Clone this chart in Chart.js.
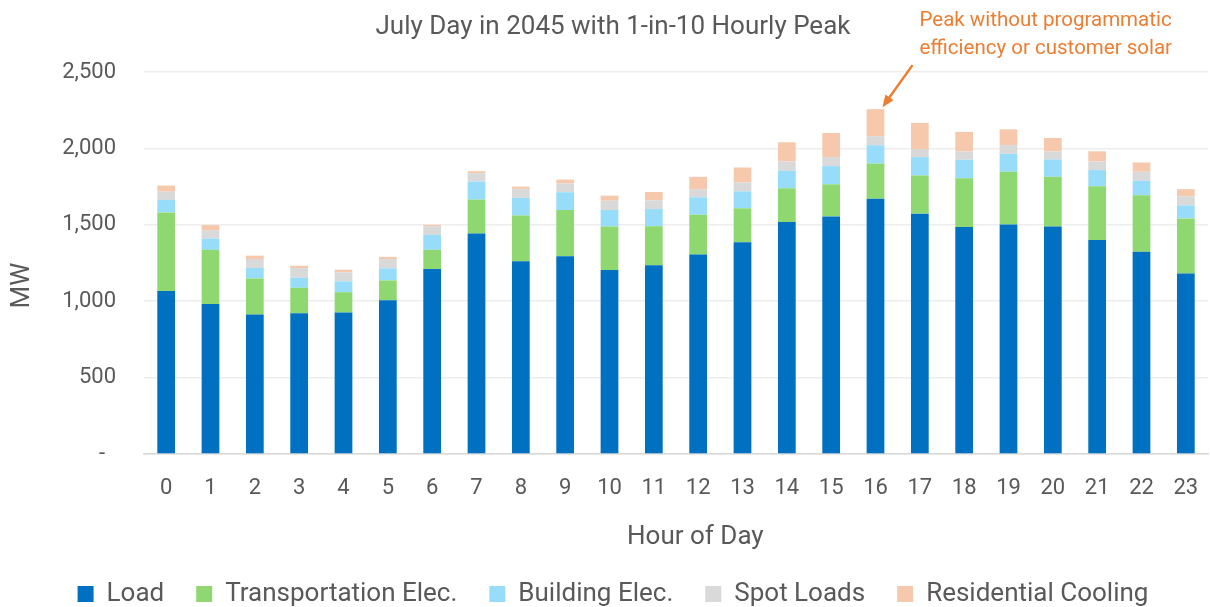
<!DOCTYPE html>
<html>
<head>
<meta charset="utf-8">
<script src="https://cdn.jsdelivr.net/npm/chart.js@4/dist/chart.umd.min.js"></script>
<style>
  html, body { margin: 0; padding: 0; background: #ffffff; }
  #wrap { width: 1210px; height: 607px; }
</style>
</head>
<body>
<div id="wrap"><canvas id="c" width="1210" height="607"></canvas></div>
<script>
const hours = ['0','1','2','3','4','5','6','7','8','9','10','11','12','13','14','15','16','17','18','19','20','21','22','23'];
const load = [1066, 982, 913, 921, 926, 1007, 1211, 1443, 1261, 1294, 1204, 1235, 1305, 1386, 1518, 1555, 1671, 1573, 1485, 1502, 1489, 1400, 1323, 1182];
const transportation = [515, 354, 236, 167, 133, 129, 125, 222, 300, 303, 285, 256, 261, 222, 221, 210, 230, 250, 320, 345, 325, 352, 370, 360];
const building = [82, 74, 68, 66, 71, 79, 98, 118, 115, 116, 108, 112, 114, 111, 114, 119, 120, 120, 121, 118, 114, 106, 95, 85];
const spotLoads = [54, 55, 59, 63, 59, 61, 57, 55, 59, 57, 61, 57, 53, 58, 62, 59, 59, 53, 55, 57, 53, 57, 59, 59];
const residentialCooling = [40, 33, 22, 15, 17, 14, 9, 13, 15, 26, 33, 55, 81, 98, 125, 158, 177, 171, 127, 103, 87, 66, 61, 47];
const yTicks = [0, 500, 1000, 1500, 2000, 2500];
const seriesNames = ['Load', 'Transportation Elec.', 'Building Elec.', 'Spot Loads', 'Residential Cooling'];
const seriesColors = ['#0070C0', '#8FD871', '#97DCF8', '#D9D9D9', '#F7C9AC'];
const annotationLines = ['Peak without programmatic', 'efficiency or customer solar'];

const FONT = "'Roboto', sans-serif";
const TXT = '#595959';

const seriesData = [load, transportation, building, spotLoads, residentialCooling];
const datasets = seriesData.map((d, i) => ({
  label: seriesNames[i],
  data: d,
  backgroundColor: seriesColors[i],
  borderWidth: 0,
  barPercentage: 0.4,
  categoryPercentage: 1.0
}));

const peakAnnotation = {
  id: 'peakAnnotation',
  afterDatasetsDraw(chart) {
    const totals = hours.map((h, i) => seriesData.reduce((s, d) => s + d[i], 0));
    let idx = 0;
    totals.forEach((t, i) => { if (t > totals[idx]) idx = i; });
    const x = chart.scales.x.getPixelForValue(idx);
    const y = chart.scales.y.getPixelForValue(totals[idx]);
    const ctx = chart.ctx;
    ctx.save();
    const col = '#ED7D31';
    ctx.strokeStyle = col;
    ctx.fillStyle = col;
    ctx.lineWidth = 2.5;
    const x0 = x + 37, y0 = y - 44, x1 = x + 7, y1 = y - 2;
    const ang = Math.atan2(y1 - y0, x1 - x0);
    const head = 12;
    ctx.beginPath();
    ctx.moveTo(x0, y0);
    ctx.lineTo(x1 - Math.cos(ang) * head * 0.8, y1 - Math.sin(ang) * head * 0.8);
    ctx.stroke();
    ctx.beginPath();
    ctx.moveTo(x1, y1);
    ctx.lineTo(x1 - head * Math.cos(ang) + 5 * Math.sin(ang), y1 - head * Math.sin(ang) - 5 * Math.cos(ang));
    ctx.lineTo(x1 - head * Math.cos(ang) - 5 * Math.sin(ang), y1 - head * Math.sin(ang) + 5 * Math.cos(ang));
    ctx.closePath();
    ctx.fill();
    ctx.font = '20.5px ' + FONT;
    ctx.textAlign = 'left';
    ctx.textBaseline = 'middle';
    ctx.fillText(annotationLines[0], x + 44, y - 88);
    ctx.fillText(annotationLines[1], x + 44, y - 60);
    ctx.restore();
  }
};

new Chart(document.getElementById('c'), {
  type: 'bar',
  data: { labels: hours, datasets: datasets },
  plugins: [peakAnnotation],
  options: {
    responsive: false,
    animation: false,
    layout: { padding: { left: 18, right: 2, top: 0, bottom: -10 } },
    plugins: {
      title: {
        display: true,
        text: 'July Day in 2045 with 1-in-10 Hourly Peak',
        color: TXT,
        font: { family: FONT, size: 26, weight: 'normal' },
        padding: { top: 11.4, bottom: 29.4 }
      },
      legend: {
        position: 'bottom',
        labels: {
          color: TXT,
          font: { family: FONT, size: 26 },
          boxWidth: 16,
          boxHeight: 16,
          padding: 32
        }
      },
      tooltip: { enabled: false }
    },
    scales: {
      x: {
        stacked: true,
        grid: { display: false, drawTicks: true, tickLength: 21 },
        border: { display: true, color: '#D9D9D9', width: 1.5 },
        ticks: { color: TXT, font: { family: FONT, size: 22 }, padding: 0, maxRotation: 0 },
        title: {
          display: true,
          text: '      Hour of Day',
          color: TXT,
          font: { family: FONT, size: 26, lineHeight: 1 },
          padding: { top: 0, bottom: -1 }
        },
        afterFit(s) { s.height = 95; }
      },
      y: {
        stacked: true,
        min: 0,
        max: 2500,
        afterBuildTicks(s) { s.ticks = yTicks.map(v => ({ value: v })); },
        grid: { color: '#EDEDED', lineWidth: 1.5, drawTicks: false },
        border: { display: false },
        ticks: {
          color: TXT,
          font: { family: FONT, size: 22 },
          padding: 28,
          callback: (v) => v === 0 ? '-  ' : v.toLocaleString('en-US')
        },
        title: {
          display: true,
          text: 'MW       ',
          color: TXT,
          font: { family: FONT, size: 26, lineHeight: 1 },
          padding: { top: -9, bottom: 0 }
        },
        afterFit(s) { s.width = 126; }
      }
    }
  }
});
</script>
</body>
</html>
